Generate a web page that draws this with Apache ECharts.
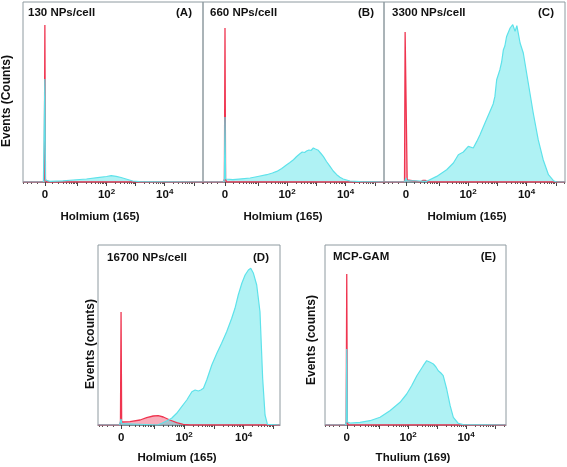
<!DOCTYPE html>
<html>
<head>
<meta charset="utf-8">
<script src="https://cdn.jsdelivr.net/npm/echarts@6/dist/echarts.min.js"></script>
<style>html,body{margin:0;padding:0;background:#fff}#c{width:567px;height:467px}</style>
</head>
<body>
<div id="c"></div>
<script>
// ---- data (x in transformed decade units, y in relative counts) ----
var redAu = [-0.87, -0.17, -0.14, -0.12, -0.10, -0.07, 5.32];
var redAh = [0, 0, 3, 157, 3, 0, 0];
var cyanAu = [-0.87, -0.17, -0.14, -0.12, -0.10, -0.06, 0.05, 0.5, 0.85, 1.31, 1.76, 2.0, 2.16, 2.33, 2.5, 2.67, 2.9, 3.13, 3.6, 5.32];
var cyanAh = [0, 0, 2, 103, 2, 0.8, 0.7, 1.2, 2, 3, 4.7, 5.5, 6.3, 5.7, 4.5, 3, 1, 0.3, 0.2, 0];

var redBu = [-0.87, -0.17, -0.14, -0.12, -0.10, -0.07, 5.32];
var redBh = [0, 0, 3, 154, 3, 0, 0];
var cyanBu = [-0.87, -0.17, -0.14, -0.12, -0.10, -0.05, 0.15, 0.45, 0.74, 1.0, 1.31, 1.5, 1.65, 1.82, 1.99, 2.1, 2.22, 2.33, 2.44, 2.52, 2.6, 2.67, 2.75, 2.82, 2.9, 2.97, 3.07, 3.16, 3.24, 3.35, 3.47, 3.58, 3.7, 3.81, 3.92, 4.15, 4.5, 5.32];
var cyanBh = [0, 0, 3, 65, 3, 1, 2.3, 3.2, 4, 5.5, 7.3, 9, 10.6, 13.5, 17.3, 19.5, 22.3, 25.5, 28.3, 30, 29.5, 31, 32, 31.5, 34, 33, 31.7, 28.5, 25.6, 20.5, 15.7, 11, 7.3, 4.8, 3, 1, 0.3, 0];

var redCu = [-0.87, -0.17, -0.15, -0.11, -0.08, -0.03, 0.38, 0.45, 0.55, 0.62, 5.32];
var redCh = [0, 0, 150, 150, 2, 0, 0, 1.5, 1.5, 0, 0];
var cyanCu = [-0.87, -0.17, -0.14, -0.12, -0.10, -0.05, 0.59, 0.93, 1.27, 1.5, 1.67, 1.84, 2.01, 2.18, 2.3, 2.41, 2.58, 2.75, 2.86, 2.92, 2.98, 3.04, 3.09, 3.15, 3.21, 3.26, 3.32, 3.44, 3.49, 3.53, 3.61, 3.67, 3.78, 3.89, 4.06, 4.23, 4.4, 4.57, 4.75, 4.92, 5.03, 5.32];
var cyanCh = [0, 0, 1.5, 4, 1.5, 0.5, 0.7, 5.6, 12.3, 19, 27.3, 30, 35.6, 34, 40.6, 47.3, 59, 70.6, 78, 85.6, 102.3, 104, 112.3, 120, 132.3, 136, 145.6, 154, 152, 157.3, 150.6, 156.3, 139, 129, 99, 69, 42.3, 22.3, 7.3, 1.3, 0, 0];

var redDu = [-0.90, -0.17, -0.14, -0.12, -0.10, -0.06, 0.18, 0.52, 0.74, 0.96, 1.13, 1.3, 1.52, 1.75, 1.97, 2.2, 5.22];
var redDh = [0, 0, 3, 113, 3, 1.7, 3.3, 5, 7.3, 9, 9.3, 8, 5, 2.3, 0.7, 0, 0];
var cyanDu = [-0.90, -0.17, -0.14, -0.12, -0.10, -0.06, 1.1, 1.25, 1.41, 1.58, 1.75, 1.92, 2.09, 2.26, 2.37, 2.48, 2.56, 2.65, 2.76, 2.93, 3.1, 3.26, 3.43, 3.6, 3.71, 3.82, 3.94, 4.05, 4.16, 4.24, 4.33, 4.44, 4.55, 4.64, 4.72, 4.8, 5.22];
var cyanDh = [0, 0, 1.5, 6, 1.5, 0, 0, 1.7, 4, 6.7, 11.7, 18.3, 25, 33.3, 35, 34, 35, 36.7, 45, 60, 71.7, 81.7, 93.3, 106.7, 116.7, 130, 141.7, 150, 155, 156.7, 151.7, 140, 113.3, 46.7, 10, 0.7, 0];

var redEu = [-0.87, -0.17, -0.14, -0.12, -0.10, -0.07, 5.38];
var redEh = [0, 0, 3, 151, 3, 0, 0];
var cyanEu = [-0.87, -0.17, -0.14, -0.12, -0.10, -0.06, 0.0, 0.34, 0.68, 1.03, 1.37, 1.72, 1.95, 2.12, 2.3, 2.41, 2.52, 2.58, 2.64, 2.7, 2.76, 2.87, 2.96, 3.04, 3.13, 3.21, 3.33, 3.45, 3.56, 3.73, 3.9, 5.38];
var cyanEh = [0, 0, 3, 76, 3, 1.5, 2, 2.7, 4.3, 7.7, 14.3, 22.7, 31, 39.3, 49.3, 54.3, 59.3, 61, 64.3, 63, 62.7, 61, 58, 54.3, 52, 49.3, 36, 19.3, 7.7, 1.7, 0.3, 0];

// tick definitions (raw intensity values)
var labelValues = [0, 100, 10000];
var labelTexts = ['0', '10{s|2}', '10{s|4}'];
var majorTickValues = [0, 10, 100, 1000, 10000, 100000];
var minorTickValues = [-9, -8, -7, -6, -5, -4, -3, -2, -1,
  1, 2, 3, 4, 5, 6, 7, 8, 9,
  20, 30, 40, 50, 60, 70, 80, 90,
  200, 300, 400, 500, 600, 700, 800, 900,
  2000, 3000, 4000, 5000, 6000, 7000, 8000, 9000,
  20000, 30000, 40000, 50000, 60000, 70000, 80000, 90000,
  200000, 300000];

var panelTitles = ['130 NPs/cell', '660 NPs/cell', '3300 NPs/cell', '16700 NPs/cell', 'MCP-GAM'];
var panelTags = ['(A)', '(B)', '(C)', '(D)', '(E)'];
var xTitles = ['Holmium (165)', 'Holmium (165)', 'Holmium (165)', 'Holmium (165)', 'Thulium (169)'];
var yTitles = ['Events (Counts)', 'Events (counts)'];

// ---- layout ----
var B = 0.76;
function toU(x) { return Math.log10(B) + Math.asinh(x / (2 * B)) / Math.LN10; }

var panels = [
  {left: 23, top: 2, width: 180, height: 180, min: -0.872, max: 5.316, red: [redAu, redAh], cyan: [cyanAu, cyanAh], xt: 100, yt: 217, tl: 28, tr: 192, ty: 13},
  {left: 203, top: 2, width: 181, height: 180, min: -0.872, max: 5.316, red: [redBu, redBh], cyan: [cyanBu, cyanBh], xt: 283, yt: 217, tl: 210, tr: 374, ty: 13},
  {left: 384, top: 2, width: 181, height: 180, min: -0.872, max: 5.316, red: [redCu, redCh], cyan: [cyanCu, cyanCh], xt: 467, yt: 217, tl: 392, tr: 554, ty: 13},
  {left: 98, top: 245, width: 182, height: 180, min: -0.895, max: 5.223, red: [redDu, redDh], cyan: [cyanDu, cyanDh], xt: 177, yt: 458, tl: 107, tr: 269, ty: 258},
  {left: 325, top: 245, width: 181, height: 180, min: -0.871, max: 5.378, red: [redEu, redEh], cyan: [cyanEu, cyanEh], xt: 413, yt: 458, tl: 333, tr: 496, ty: 257}
];

var FONT = '"Liberation Sans", Arial, sans-serif';
var grids = [], xAxes = [], yAxes = [], series = [], graphics = [];
var labelU = labelValues.map(toU);

panels.forEach(function (p, i) {
  grids.push({left: p.left, top: p.top, width: p.width, height: p.height, show: true, borderColor: '#8e9aa0', borderWidth: 1, backgroundColor: 'transparent'});
  xAxes.push({
    type: 'value', gridIndex: i, min: p.min, max: p.max, position: 'bottom',
    axisLine: {show: true, lineStyle: {color: '#7c8a90', width: 1}},
    axisTick: {show: true, customValues: majorTickValues.map(toU), length: 4, lineStyle: {color: '#444', width: 1}},
    axisLabel: {show: true, customValues: labelU, margin: 6, color: '#111', fontSize: 11.5, fontWeight: 'bold', fontFamily: FONT, lineHeight: 14,
      rich: {s: {fontSize: 8, fontWeight: 'bold', fontFamily: FONT, color: '#111', verticalAlign: 'top', lineHeight: 9}},
      formatter: function (v) {
        for (var k = 0; k < labelU.length; k++) { if (Math.abs(labelU[k] - v) < 1e-6) return labelTexts[k]; }
        return '';
      }},
    splitLine: {show: false}
  });
  xAxes.push({
    type: 'value', gridIndex: i, min: p.min, max: p.max, position: 'bottom',
    axisLine: {show: false},
    axisTick: {show: true, customValues: minorTickValues.map(toU), length: 2, lineStyle: {color: '#555', width: 1}},
    axisLabel: {show: false},
    splitLine: {show: false}
  });
  yAxes.push({type: 'value', gridIndex: i, min: 0, max: 180, show: false});

  function pairs(u, h) { return u.map(function (x, k) { return [x, h[k]]; }); }
  series.push({
    type: 'line', xAxisIndex: 2 * i, yAxisIndex: i, data: pairs(p.red[0], p.red[1]),
    showSymbol: false, symbol: 'none', smooth: false, animation: false,
    lineStyle: {color: '#ef3550', width: 1.3},
    areaStyle: {color: 'rgba(238,62,92,0.6)'}
  });
  series.push({
    type: 'line', xAxisIndex: 2 * i, yAxisIndex: i, data: pairs(p.cyan[0], p.cyan[1]),
    showSymbol: false, symbol: 'none', smooth: false, animation: false,
    lineStyle: {color: '#5ee2ea', width: 1.2},
    areaStyle: {color: 'rgba(60,222,228,0.58)'}
  });

  graphics.push({type: 'text', x: p.tl, y: p.ty, style: {text: panelTitles[i], font: 'bold 11.5px ' + FONT, fill: '#111', textAlign: 'left', textVerticalAlign: 'middle'}});
  graphics.push({type: 'text', x: p.tr, y: p.ty, style: {text: panelTags[i], font: 'bold 11.5px ' + FONT, fill: '#111', textAlign: 'right', textVerticalAlign: 'middle'}});
  graphics.push({type: 'text', x: p.xt, y: p.yt, style: {text: xTitles[i], font: 'bold 11.5px ' + FONT, fill: '#111', textAlign: 'center', textVerticalAlign: 'middle'}});
});

graphics.push({type: 'text', x: 7, y: 101, rotation: Math.PI / 2, style: {text: yTitles[0], font: 'bold 12px ' + FONT, fill: '#111', textAlign: 'center', textVerticalAlign: 'middle'}});
graphics.push({type: 'text', x: 91, y: 344, rotation: Math.PI / 2, style: {text: yTitles[1], font: 'bold 12px ' + FONT, fill: '#111', textAlign: 'center', textVerticalAlign: 'middle'}});
graphics.push({type: 'text', x: 312, y: 340, rotation: Math.PI / 2, style: {text: yTitles[1], font: 'bold 12px ' + FONT, fill: '#111', textAlign: 'center', textVerticalAlign: 'middle'}});

var chart = echarts.init(document.getElementById('c'), null, {renderer: 'canvas'});
chart.setOption({
  animation: false,
  backgroundColor: '#fff',
  grid: grids, xAxis: xAxes, yAxis: yAxes, series: series, graphic: graphics
});
</script>
</body>
</html>
